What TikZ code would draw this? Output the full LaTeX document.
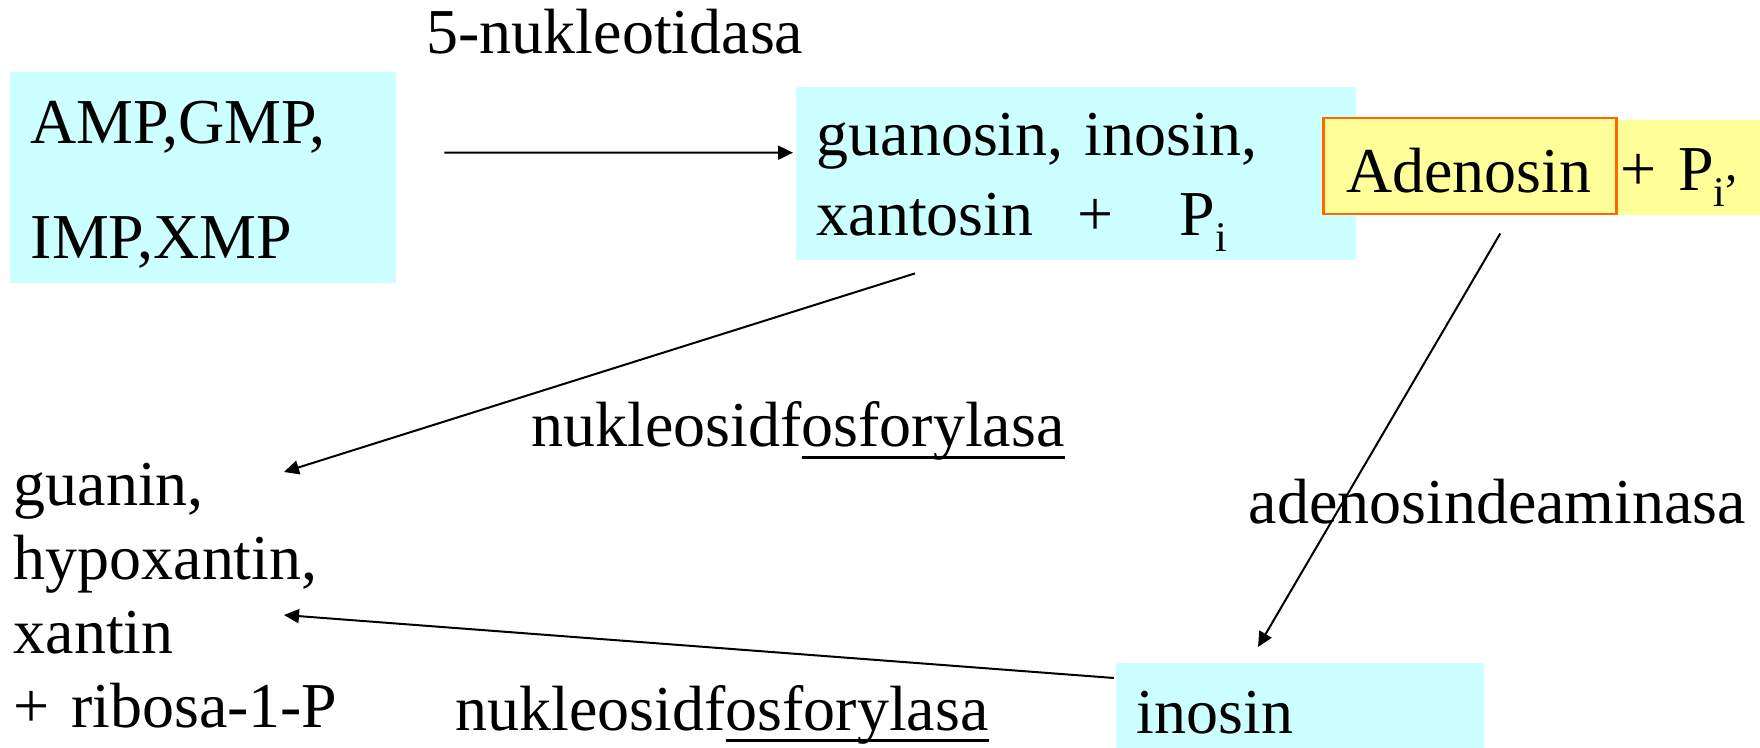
\documentclass[tikz,border=0pt]{standalone}
\usepackage{fontspec}
\setmainfont{Liberation Serif}
\usetikzlibrary{arrows.meta, positioning, calc}
\definecolor{boxcyan}{HTML}{CCFFFF}
\definecolor{boxyellow}{HTML}{FFFF99}
\definecolor{boxorange}{HTML}{FF6600}
\newsavebox\ulbox
\newcommand{\vstr}[2]{\rule[-#2]{0pt}{\dimexpr#1+#2\relax}}
\newcommand{\subi}{\raisebox{-0.155cm}{\fontsize{12pt}{12pt}\selectfont i}}
\newcommand{\subcomma}{\raisebox{0.10cm}{\fontsize{14pt}{14pt}\selectfont ,}}
\newcommand{\undl}[1]{\sbox\ulbox{#1}\rlap{\rule[-0.115cm]{\wd\ulbox}{0.03cm}}\usebox\ulbox}
\tikzset{
  cbox/.style={rectangle,fill=boxcyan,inner xsep=0.21cm,inner ysep=0pt,align=left,anchor=north west},
  ybox/.style={rectangle,fill=boxyellow,inner xsep=0.15cm,inner ysep=0pt,align=left,anchor=north west},
  obox/.style={rectangle,draw=boxorange,line width=0.025cm,fill=boxyellow,inner xsep=0.23cm,inner ysep=0pt,align=left,anchor=north west},
  lbl/.style={inner sep=0pt,anchor=base west},
  arr/.style={-{Triangle[length=0.15cm,width=0.14cm]},line width=0.02cm}
}

\begin{document}
\begin{tikzpicture}[font=\fontsize{18.2pt}{0.74cm}\selectfont]
  \useasboundingbox (0,0) rectangle (17.6,-7.48);

  \node[cbox, text width=3.44cm] (amp) at (0.09,-0.71)
    {\vstr{0.72cm}{0pt}AMP,GMP,\\[0.41cm]IMP,XMP\vstr{0pt}{0.24cm}};
  \node[cbox, text width=5.18cm] (gxp) at (7.95,-0.86)
    {\vstr{0.69cm}{0pt}guanosin, inosin,\\[0.06cm]xantosin\hspace{0.44cm}+\hspace{0.66cm}P\subi\vstr{0pt}{0.24cm}};
  \node[ybox, text width=1.8cm] (pi) at (16.05,-1.19)
    {\vstr{0.71cm}{0.24cm}+ P\subi\subcomma};
  \node[obox, text width=2.47cm] (ado) at (13.22,-1.17)
    {\vstr{0.74cm}{0.22cm}Adenosin};
  \node[cbox, text width=3.26cm] (ino) at (11.15,-6.62)
    {\vstr{0.71cm}{0.24cm}inosin};
  \node[inner sep=0pt, text width=3.4cm, align=left, anchor=north west] (prod) at (0.13,-4.33)
    {\vstr{0.72cm}{0pt}guanin,\\hypoxantin,\\xantin\\+ ribosa-1-P};

  \node[lbl] (nuc) at (4.26,-0.54) {5-nukleotidasa};
  \node[lbl] (fos1) at (5.31,-4.47) {nukleosidf\undl{osforylasa}};
  \node[lbl] (dea) at (12.48,-5.24) {adenosindeaminasa};
  \node[lbl] (fos2) at (4.55,-7.30) {nukleosidf\undl{osforylasa}};

  \draw[arr] ([xshift=0.48cm,yshift=0.245cm]amp.east) -- ([xshift=-0.02cm,yshift=0.205cm]gxp.west);
  \draw[arr] ([xshift=1.20cm,yshift=-0.13cm]gxp.south west) -- ([xshift=2.71cm,yshift=-0.39cm]prod.north west);
  \draw[arr] ([xshift=0.305cm,yshift=-0.18cm]ado.south) -- ([xshift=1.43cm,yshift=0.15cm]ino.north west);
  \draw[arr] ([xshift=-0.01cm,yshift=-0.16cm]ino.north west) -- ([xshift=2.71cm,yshift=-1.82cm]prod.north west);
\end{tikzpicture}
\end{document}
